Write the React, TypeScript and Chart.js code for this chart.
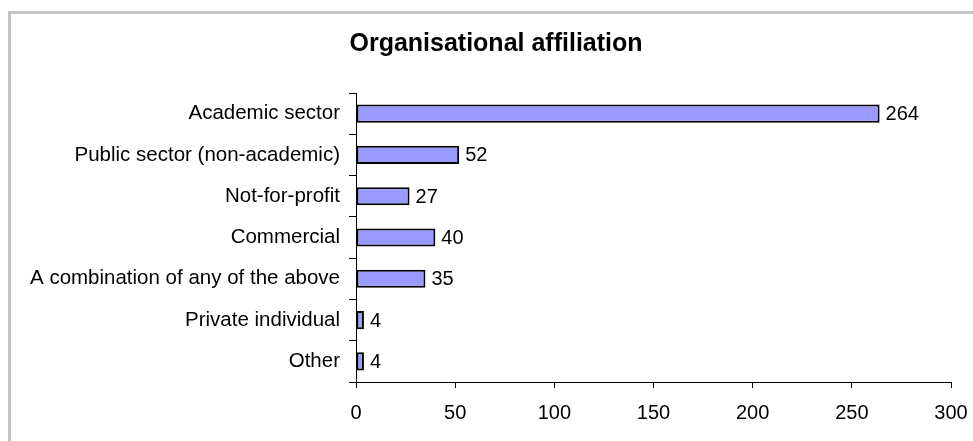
import React, { useEffect, useRef } from "react";
import { Chart, registerables } from "chart.js";

Chart.register(...registerables);

const TITLE = "Organisational affiliation";
const categories = [
  "Academic sector",
  "Public sector (non-academic)",
  "Not-for-profit",
  "Commercial",
  "A combination of any of the above",
  "Private individual",
  "Other",
];
const values = [264, 52, 27, 40, 35, 4, 4];
const xMin = 0;
const xMax = 300;
const xStep = 50;

const FONT = "'Liberation Sans', Arial, Helvetica, sans-serif";

const valueLabels = {
  id: "valueLabels",
  afterDatasetsDraw(chart: any) {
    const ctx = chart.ctx;
    const meta = chart.getDatasetMeta(0);
    ctx.save();
    ctx.font = `20px ${FONT}`;
    ctx.fillStyle = "#000";
    ctx.textAlign = "left";
    ctx.textBaseline = "middle";
    meta.data.forEach((bar: any, i: number) => {
      ctx.fillText(String(chart.data.datasets[0].data[i]), bar.x + 6, bar.y + 1);
    });
    ctx.restore();
  },
};

export default function App() {
  const ref = useRef<HTMLCanvasElement | null>(null);
  useEffect(() => {
    if (!ref.current) return;
    const chart = new Chart(ref.current, {
      type: "bar",
      data: {
        labels: categories,
        datasets: [
          {
            data: values,
            backgroundColor: "#9999FF",
            borderColor: "#000",
            borderWidth: 2,
            borderSkipped: false,
            barPercentage: 0.44,
            categoryPercentage: 1,
          },
        ],
      },
      options: {
        indexAxis: "y",
        responsive: false,
        animation: false,
        devicePixelRatio: 1,
        layout: { padding: { left: 24, right: 5, top: 0, bottom: 0 } },
        plugins: {
          legend: { display: false },
          tooltip: { enabled: false },
          title: {
            display: true,
            text: TITLE,
            color: "#000",
            font: { family: FONT, size: 25, weight: "bold" },
            padding: { top: 29, bottom: 34 },
          },
        },
        scales: {
          x: {
            type: "linear",
            min: xMin,
            max: xMax,
            afterFit: (s: any) => {
              s.height = 59;
              s.paddingRight = 22;
            },
            ticks: {
              stepSize: xStep,
              color: "#000",
              font: { family: FONT, size: 20 },
              padding: 13,
              maxRotation: 0,
            },
            grid: {
              display: true,
              drawOnChartArea: false,
              drawTicks: true,
              tickLength: 6,
              color: "#000",
            },
            border: { display: true, color: "#000", width: 1 },
          },
          y: {
            type: "category",
            afterFit: (s: any) => {
              s.width = 332;
            },
            ticks: {
              color: "#000",
              font: { family: FONT, size: 20.5 },
              padding: 9,
              autoSkip: false,
            },
            grid: {
              display: true,
              offset: true,
              drawOnChartArea: false,
              drawTicks: true,
              tickLength: 7,
              color: "#000",
            },
            border: { display: true, color: "#000", width: 1 },
          },
        },
      },
      plugins: [valueLabels],
    });
    return () => chart.destroy();
  }, []);

  return (
    <div
      style={{
        position: "fixed",
        left: 0,
        top: 0,
        width: 973,
        height: 441,
        overflow: "hidden",
        background: "#fff",
      }}
    >
      <div
        style={{
          position: "absolute",
          left: 8,
          top: 11,
          width: 1000,
          height: 500,
          border: "3px solid #c4c4c4",
          boxSizing: "border-box",
        }}
      />
      <canvas
        ref={ref}
        width={973}
        height={441}
        style={{ position: "absolute", left: 0, top: 0, width: 973, height: 441 }}
      />
    </div>
  );
}
